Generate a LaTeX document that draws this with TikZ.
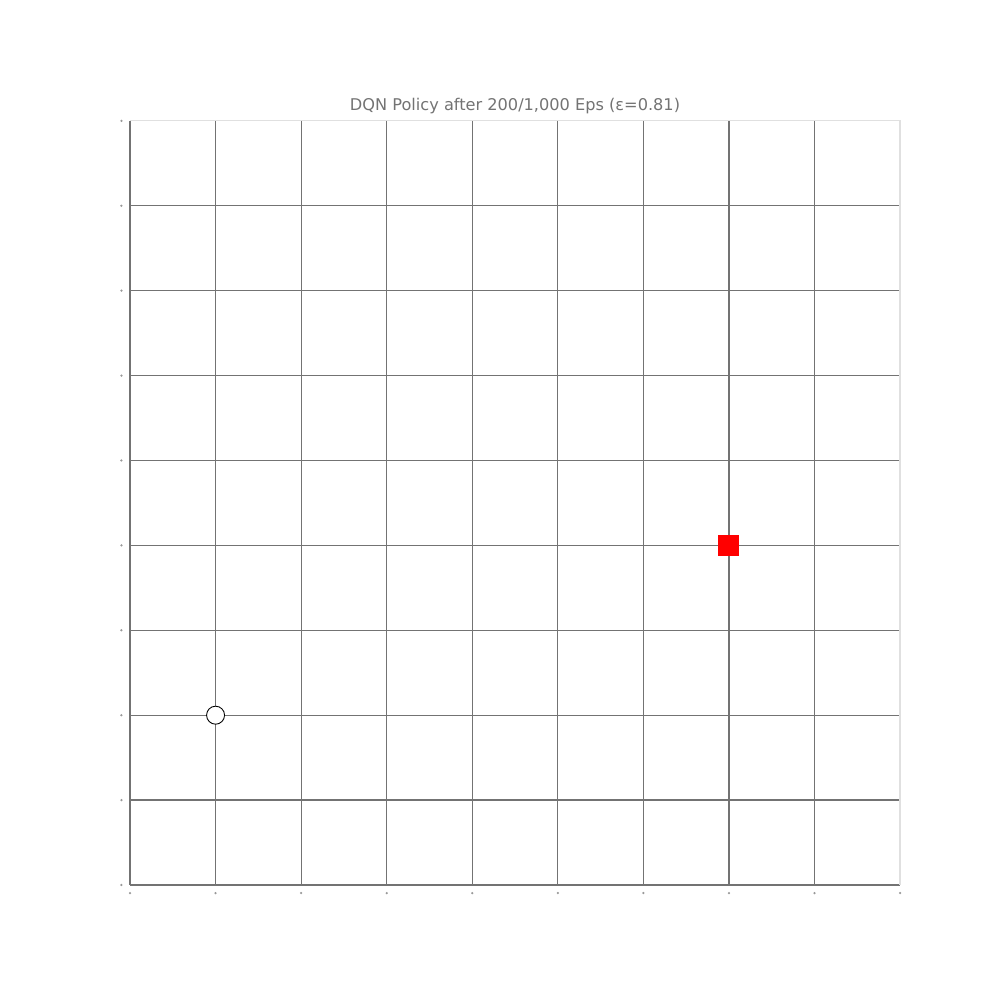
\documentclass[tikz,border=0pt]{standalone}
\usepackage{fontspec}
\setmainfont{DejaVu Sans}
\usetikzlibrary{positioning}
\tikzset{
  gridline/.style ={draw=black!55, line width=0.35pt},
  spine/.style    ={draw=black!12, line width=0.35pt},
  tickdot/.style  ={fill=black!40, circle, inner sep=0pt, minimum size=0.25mm},
  agent/.style    ={circle, draw=black, fill=white, minimum size=1.8mm, inner sep=0pt, line width=0.25pt},
  goal/.style     ={rectangle, fill=red, minimum size=2.1mm, inner sep=0pt},
  ttl/.style      ={font=\fontsize{4.6}{5.5}\selectfont, text=black!55},
}
\begin{document}
\begin{tikzpicture}
  \useasboundingbox (-1.30,-1.15) rectangle (8.70,8.85);
  \begin{scope}[x=0.8556cm, y=0.849cm]
    % grid of the environment
    \foreach \i in {0,...,8} {
      \draw[gridline] (\i,0) -- (\i,9);
      \draw[gridline] (0,\i) -- (9,\i);
    }
    \draw[spine] (0,9) -- (9,9) -- (9,0);
    % tick marks
    \foreach \i in {0,...,9} {
      \node[tickdot] at (-0.1,\i) {};
      \node[tickdot] at (\i,-0.095) {};
    }
    % agent and goal
    \node[agent] (start) at (1,2) {};
    \node[goal] (target) at (7,4) {};
    \node[ttl] (title) at (4.5,9.17) {DQN Policy after 200/1,000 Eps (ε=0.81)};
  \end{scope}
\end{tikzpicture}
\end{document}
